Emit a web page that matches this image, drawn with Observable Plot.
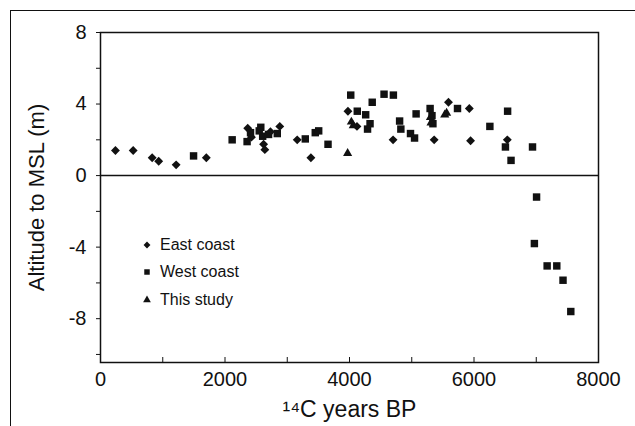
<!DOCTYPE html>
<html><head><meta charset="utf-8">
<script src="https://cdn.jsdelivr.net/npm/d3@7"></script>
<script src="https://cdn.jsdelivr.net/npm/@observablehq/plot@0.6"></script>
<style>
body{margin:0;background:#fff;}
#wrap{position:relative;width:635px;height:426px;overflow:hidden;font-family:"Liberation Sans",Arial,sans-serif;background:#fff;}
#outer{position:absolute;left:10px;top:10px;width:640px;height:430px;border-left:1.5px solid #111;border-top:1.5px solid #111;box-sizing:border-box;}
#chart{position:absolute;left:0;top:0;}
#legend{position:absolute;left:140px;top:231px;font-size:16px;color:#111;}
.row{display:flex;align-items:center;height:27.5px;}
.row svg{display:block;margin-right:6px;}
</style></head><body>
<div id="wrap"><div id="outer"></div><div id="chart"></div><div id="legend"></div></div>
<script>
// Data
const eastCoast = [
  [240,1.4],[525,1.4],[830,1.0],[935,0.8],[1215,0.6],[1700,1.0],
  [2365,2.65],[2425,2.15],[2620,1.75],[2640,1.45],[2730,2.45],[2880,2.75],
  [3160,2.0],[3380,1.0],[3975,3.6],[4120,2.75],[4700,2.0],[5360,2.0],
  [5590,4.1],[5925,3.75],[5945,1.95],[6535,2.0]
];
const westCoast = [
  [1495,1.1],[2115,2.0],[2355,1.9],[2410,2.4],[2550,2.5],[2575,2.7],[2605,2.2],[2700,2.3],[2840,2.35],
  [3290,2.05],[3450,2.4],[3505,2.5],[3655,1.75],[4020,4.5],[4125,3.6],[4260,3.4],[4330,2.9],[4290,2.6],
  [4365,4.1],[4555,4.55],[4705,4.5],[4805,3.05],[4825,2.6],[4980,2.35],[5045,2.1],[5070,3.45],
  [5295,3.75],[5325,3.35],[5340,2.9],[5735,3.75],[6255,2.75],[6540,3.6],[6505,1.6],[6595,0.85],
  [6940,1.6],[7005,-1.2],[6970,-3.8],[7175,-5.05],[7330,-5.05],[7430,-5.85],[7555,-7.6]
];
const thisStudy = [[3970,1.25],[4030,3.0],[4060,2.8],[5300,3.25],[5310,2.95],[5530,3.4],[5560,3.5]];

const xTicks = [0,2000,4000,6000,8000];
const xMinorTicks = [1000,2000,3000,4000,5000,6000,7000];
const yTicks = [8,4,0,-4,-8];
const yMinorTicks = [6,2,-2,-6,-10];
const legendLabels = ["East coast","West coast","This study"];
const xTitle = "\u00B9\u2074C years BP";
const yTitle = "Altitude to MSL (m)";

const ink = "#111";
const chart = Plot.plot({
  width: 635, height: 426,
  marginLeft: 100, marginRight: 37, marginTop: 32, marginBottom: 64,
  style: {fontFamily: "Liberation Sans, Arial, sans-serif", fontSize: "20px", color: ink, background: "transparent"},
  x: {domain: [0, 8000]},
  y: {domain: [-10.45, 8]},
  marks: [
    Plot.frame({stroke: ink, strokeWidth: 1.5}),
    Plot.ruleY([0], {stroke: ink, strokeWidth: 1.5}),
    Plot.tickX(xMinorTicks, {x: d => d, insetTop: 325, stroke: ink}),
    Plot.axisX({ticks: xTicks, tickSize: 0, tickPadding: 9, tickFormat: d => String(d), label: null, fontSize: 20}),
    Plot.axisX({ticks: [], label: xTitle, labelAnchor: "center", labelArrow: "none", labelOffset: 54, fontSize: 23}),
    Plot.axisY({ticks: yTicks, tickSize: 4, tickPadding: 10, tickFormat: d => String(d), label: null, fontSize: 20}),
    Plot.axisY({ticks: yMinorTicks, tickSize: 4, tickFormat: () => "", label: null}),
    Plot.axisY({ticks: [], label: yTitle, labelAnchor: "center", labelArrow: "none", labelOffset: 72, fontSize: 22}),
    Plot.dot(eastCoast, {x: d => d[0], y: d => d[1], symbol: "diamond2", r: 4.0, fill: ink}),
    Plot.dot(westCoast, {x: d => d[0], y: d => d[1], symbol: "square", r: 4.2, fill: ink}),
    Plot.dot(thisStudy, {x: d => d[0], y: d => d[1], symbol: "triangle", r: 3.4, fill: ink})
  ]
});
document.getElementById("chart").appendChild(chart);

// Legend
const legendSymbols = [d3.symbolDiamond2, d3.symbolSquare, d3.symbolTriangle];
const legendSizes = [30, 30, 26];
const leg = d3.select("#legend");
legendLabels.forEach((lab, i) => {
  const row = leg.append("div").attr("class", "row");
  const s = row.append("svg").attr("width", 14).attr("height", 14);
  s.append("path").attr("transform", "translate(7,7)")
    .attr("d", d3.symbol(legendSymbols[i], legendSizes[i])()).attr("fill", ink);
  row.append("span").text(lab);
});
</script>
</body></html>
